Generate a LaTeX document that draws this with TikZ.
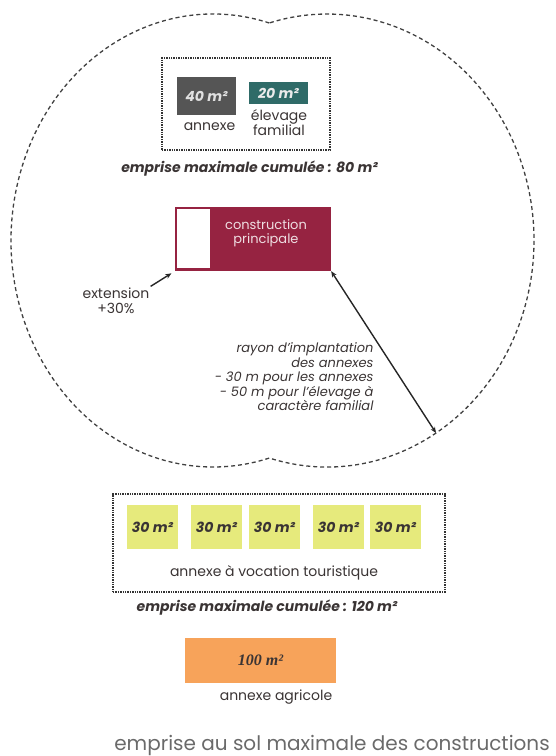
\documentclass[tikz,border=0pt]{standalone}
\usepackage{fontspec}
\setmainfont{Poppins}
\newfontfamily\serifnum{Liberation Serif}
\usetikzlibrary{arrows.meta, positioning, fit, shapes}
\definecolor{txtgray}{HTML}{3A3434}
\definecolor{boxgray}{HTML}{555555}
\definecolor{teal}{HTML}{2F6B68}
\definecolor{crimson}{HTML}{962341}
\definecolor{lightyellow}{HTML}{E6EA7C}
\definecolor{apricot}{HTML}{F7A35A}
\definecolor{titlegray}{HTML}{6A6A6A}

\begin{document}
\begin{tikzpicture}
            [
            x=1pt, y=1pt,
            every node/.style={text=txtgray, font=\fontsize{14}{15}\selectfont},
            areabox/.style={
                rectangle,
                inner sep=0pt,
                font=\fontsize{14}{16}\selectfont\bfseries\itshape
            },
            dotbox/.style={
                draw=black!80,
                densely dotted,
                line width=1.4pt,
                rectangle,
                inner sep=0pt
            },
            caption/.style={
                font=\fontsize{14}{15}\selectfont,
                align=center,
                inner sep=1pt
            },
            total/.style={
                font=\fontsize{14}{16}\selectfont\bfseries\itshape
            },
            arrow/.style={
                line width=1.4pt,
                draw=black!85,
                -{Stealth[length=6pt, width=5pt]}
            }
            ]
            \useasboundingbox (0,0) rectangle (556,756);

            % perimetre d'implantation (deux arcs d'ellipse)
            \draw[dashed, dash pattern=on 4pt off 3pt, line width=1.3pt, black!75]
                (269.3,733) arc[start angle=73.82, end angle=286.18, x radius=202, y radius=226.5]
                arc[start angle=-106.18, end angle=106.18, x radius=207, y radius=226.5] -- cycle;
            \coordinate (rim) at (436,323);

            % annexes autour de la construction
            \node (annexes) [dotbox, minimum width=168pt, minimum height=92pt] at (246,652) {};
            \node (a40) [areabox, fill=boxgray, text=white!88!black, minimum width=59pt, minimum height=38pt] at (206.5,660) {40 m²};
            \node (a20) [areabox, fill=teal, text=white!92!black, minimum width=59pt, minimum height=22pt] at (278.5,663) {20 m²};
            \node (annexelbl) [caption] at (209.5,629) {annexe};
            \node (elevage) [caption] at (279,633.5) {élevage\\familial};
            \node (total80) [total] at (249.5,587) {emprise maximale cumulée : 80 m²};

            % construction principale et son extension
            \node (princ) [rectangle, fill=crimson, minimum width=156pt, minimum height=64pt] at (253,517) {};
            \node (ext) [rectangle, fill=white, minimum width=33pt, minimum height=59pt] at (193.5,517.5) {};
            \node (princlbl) [caption, inner sep=0pt, text=white!85!crimson, font=\fontsize{13}{13.5}\selectfont] at (266,523) {construction\\principale};

            \node (extlbl) [caption, align=center] at (116,455.5) {extension\\+30\%};
            \draw[arrow, shorten >=4pt] (extlbl.north east) -- (princ.south west);

            % rayon d'implantation
            \draw[arrow, {Stealth[length=6pt, width=5pt]}-{Stealth[length=6pt, width=5pt]}] (princ.south east) -- (rim);
            \node (rayon) [align=right, anchor=east, font=\fontsize{13}{14.5}\selectfont\itshape] at (377,379)
                {rayon d'implantation\\des annexes\\- 30 m pour les annexes\\- 50 m pour l'élevage à\\caractère familial};

            % annexes a vocation touristique
            \node (tourisme) [dotbox, minimum width=332pt, minimum height=98pt] at (279,213) {};
            \foreach \x [count=\i] in {152.5,216.5,274.5,338.5,395.5}
                \node (t\i) [areabox, fill=lightyellow, minimum width=51pt, minimum height=44pt] at (\x,229) {30 m²};
            \node (tourlbl) [caption] at (274,183) {annexe à vocation touristique};
            \node (total120) [total] at (267,148) {emprise maximale cumulée : 120 m²};

            % annexe agricole
            \node (agri) [areabox, fill=apricot, font=\fontsize{16}{18}\selectfont\serifnum\bfseries\itshape, minimum width=151pt, minimum height=45pt] at (260.5,95.5) {100 m²};
            \node (agrilbl) [caption] at (276,59) {annexe agricole};

            \node (titre) [text=titlegray, font=\fontsize{20}{22}\selectfont] at (332,11) {emprise au sol maximale des constructions};

        \end{tikzpicture}
\end{document}
